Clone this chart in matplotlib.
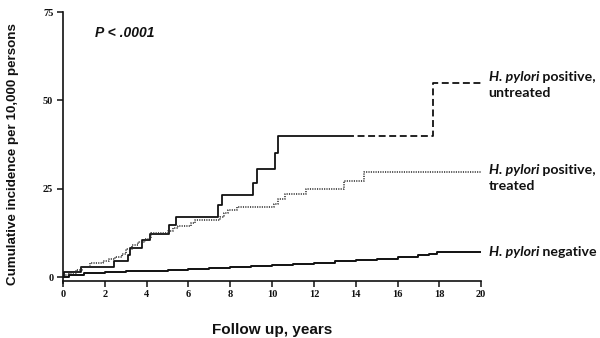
import numpy as np
import matplotlib
matplotlib.use("Agg")
import matplotlib.pyplot as plt

# Cumulative incidence per 10,000 persons by follow-up year (step functions)
untreated_t = [0, 0.05, 0.85, 2.45, 3.1, 3.2, 3.77, 4.15, 5.07, 5.4, 7.4, 7.6,
               9.1, 9.3, 10.15, 10.3, 17.7, 20]
untreated_v = [0, 1.3, 2.9, 4.6, 6.3, 8.2, 10.5, 12.3, 14.6, 16.9, 20.5, 23.2,
               26.5, 30.7, 35.0, 40.0, 55.0, 55.0]

treated_t = [0, 0.3, 0.6, 0.9, 1.3, 1.9, 2.2, 2.5, 2.8, 3.0, 3.3, 3.6, 3.9, 4.2,
             5.0, 5.25, 5.5, 6.1, 6.3, 7.5, 7.7, 7.9, 8.3, 10.1, 10.3, 10.6,
             11.6, 13.45, 14.4, 20]
treated_v = [0.5, 1.2, 2.0, 2.9, 3.9, 4.5, 5.1, 5.6, 6.6, 7.8, 9.0, 9.8, 10.9,
             12.4, 13.1, 14.0, 14.4, 15.2, 16.2, 17.0, 18.2, 19.0, 19.7, 20.8,
             22.0, 23.6, 24.9, 27.2, 29.8, 29.8]

negative_t = [0, 0.3, 1.0, 2, 3, 4, 5, 6, 7, 8, 9, 10, 11, 12, 13, 14, 15, 16,
              17, 17.5, 17.9, 20]
negative_v = [0, 0.6, 1.2, 1.4, 1.6, 1.8, 2.0, 2.3, 2.5, 2.8, 3.1, 3.4, 3.8,
              4.1, 4.5, 4.8, 5.2, 5.7, 6.2, 6.6, 7.2, 7.2]

x_ticks = list(range(0, 21, 2))
y_ticks = [0, 25, 50, 75]

group_labels = [("H. pylori", " positive,", "untreated"),
                ("H. pylori", " positive,", "treated"),
                ("H. pylori", " negative", None)]

ink = "#111111"
plt.rcParams["lines.scale_dashes"] = False

fig = plt.figure(figsize=(6.0, 3.38), dpi=100)
ax = fig.add_axes([0.105, 0.170, 0.697, 0.794])

ut = np.array(untreated_t)
uv = np.array(untreated_v)
split = 13.6
solid_mask = ut <= split
ut_solid = np.append(ut[solid_mask], split)
uv_solid = np.append(uv[solid_mask], uv[solid_mask][-1])
ut_dash = np.insert(ut[~solid_mask], 0, split)
uv_dash = np.insert(uv[~solid_mask], 0, uv[solid_mask][-1])

ax.plot(ut_solid, uv_solid, drawstyle="steps-post", color=ink, lw=1.3,
        solid_capstyle="butt")
ax.plot(ut_dash, uv_dash, drawstyle="steps-post", color=ink, lw=1.3,
        dashes=(5.0, 2.6))
ax.plot(treated_t, treated_v, drawstyle="steps-post", color="#2a2a2a", lw=1.15,
        dashes=(0.8, 0.9))
ax.plot(negative_t, negative_v, drawstyle="steps-post", color=ink, lw=1.4)

ax.set_xlim(0, 20)
ax.set_ylim(-1, 75)
ax.set_xticks(x_ticks)
ax.set_yticks(y_ticks)
ax.spines["top"].set_visible(False)
ax.spines["right"].set_visible(False)
for s in ("left", "bottom"):
    ax.spines[s].set_linewidth(1.2)
    ax.spines[s].set_color(ink)
ax.spines["left"].set_bounds(-1.8, 75)
ax.tick_params(axis="both", direction="out", length=4, width=1.1, color=ink,
               labelsize=7.5, labelcolor=ink, pad=3)
for lab in ax.get_xticklabels() + ax.get_yticklabels():
    lab.set_family("Liberation Serif")
    lab.set_weight("bold")

ax.set_xlabel("Follow up, years", fontsize=11, fontweight="bold",
              family="Liberation Sans", color=ink, labelpad=17)
fig.text(0.022, 0.545, "Cumulative incidence per 10,000 persons", rotation=90,
         ha="center", va="center", fontsize=9.6, fontweight="bold",
         family="Liberation Sans", color=ink)

ax.text(1.55, 69, "P < .0001", fontsize=10, fontweight="bold", style="italic",
        family="Liberation Sans", color=ink, ha="left", va="center")

label_y = [56.5, 30.2, 7.2]
for (ital, rest, second), y in zip(group_labels, label_y):
    t1 = ax.text(20.35, y, ital, fontsize=10.2, fontweight="bold",
                 style="italic", family="Lato", color=ink, ha="left",
                 va="center", clip_on=False)
    ax.annotate(rest, xy=(1, 0), xycoords=t1, va="bottom", ha="left",
                fontsize=10.2, fontweight="bold", family="Lato", color=ink)
    if second:
        ax.annotate(second, xy=(0, 0), xycoords=t1, xytext=(0, -2.5),
                    textcoords="offset points", va="top", ha="left",
                    fontsize=10.2, fontweight="bold", family="Lato", color=ink)

fig.savefig("out.png", dpi=100)
